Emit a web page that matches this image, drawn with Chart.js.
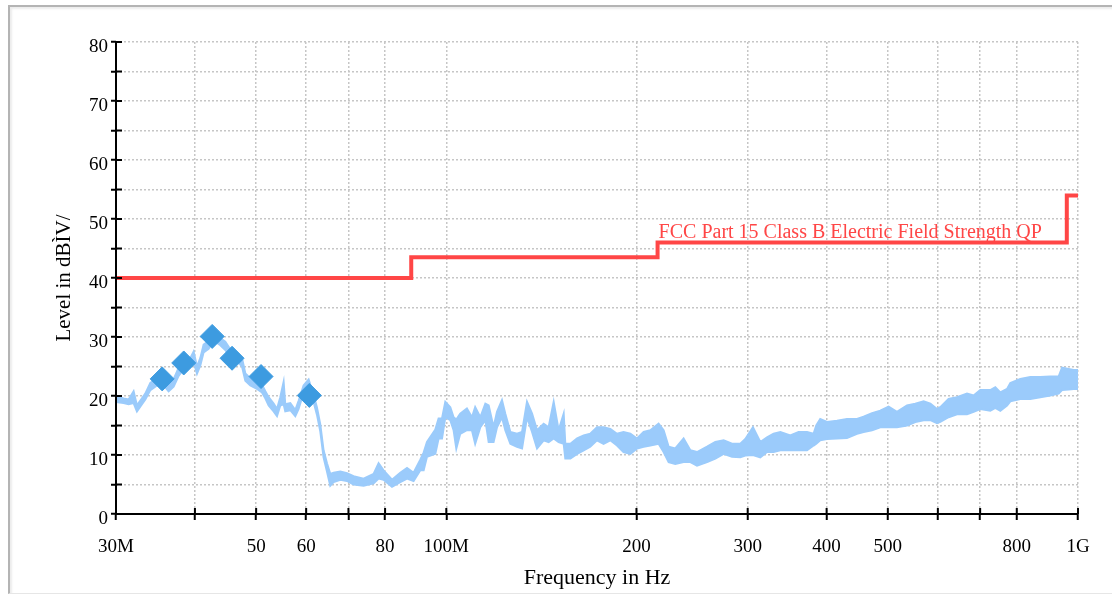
<!DOCTYPE html>
<html>
<head>
<meta charset="utf-8">
<script src="https://cdn.jsdelivr.net/npm/chart.js@4"></script>
<style>
  html, body { margin: 0; padding: 0; background: #fff; overflow: hidden; }
  #frame {
    position: absolute; left: 8px; top: 5px; width: 1200px; height: 586px;
    border-left: 2px solid #b4b4b4; border-top: 2px solid #b4b4b4;
    border-bottom: 1px solid #e6e6e6;
    box-shadow: inset 2px 2px 2px #ececec;
  }
  #chart { position: absolute; left: 0; top: 0; }
</style>
</head>
<body>
<div id="frame"></div>
<canvas id="chart" width="1112" height="594"></canvas>
<script>
// eixo de frequencia (MHz) - ticks e rotulos
const xTickValues = [30, 40, 50, 60, 70, 80, 100, 200, 300, 400, 500, 600, 700, 800, 1000];
const xTickLabels = ['30M', '', '50', '60', '', '80', '100M', '200', '300', '400', '500', '', '', '800', '1G'];

// limite FCC (degraus)
const limitName = 'FCC Part 15 Class B Electric Field Strength QP';
const limitFreq = [30, 88, 216, 960, 1000];
const limitLevel = [40, 43.5, 46, 54, 54];

// pontos medidos (QP)
const markFreq = [35.5, 38.4, 42.6, 45.8, 50.9, 60.7];
const markLevel = [22.9, 25.6, 30.1, 26.4, 23.3, 20.1];

// varredura: frequencia, envelope superior e inferior
const traceFreq = [
  30, 30.84, 31.41, 31.99, 32.38, 32.98, 33.38, 34.0, 34.84, 35.69,
  36.34, 37.01, 37.69, 38.38, 39.33, 39.81, 40.3, 40.79, 41.29, 42.05,
  42.82, 43.88, 44.68, 45.5, 46.63, 47.49, 48.07, 48.95, 50.16, 51.08,
  51.7, 52.33, 53.29, 53.95, 54.6, 55.27, 55.6, 56.63, 57.67, 58.37,
  59.44, 60.54, 61.65, 62.42, 63.17, 63.93, 64.73, 65.51, 66.32, 67.96,
  69.63, 71.32, 73.98, 76.72, 78.13, 79.56, 82.04, 84.55, 86.66, 88.76,
  90.96, 92.07, 93.2, 96.08, 97.23, 98.45, 99.64,
  101.47, 102.69, 103.71, 105.2, 107.8, 109.8, 111.1, 113.2, 115.3, 116.7,
  118.8, 120.3, 122.5, 124.0, 126.3, 129.4, 131.8, 134.2, 136.7, 139.2,
  142.6, 145.2, 147.9, 150.6, 153.4, 154.3, 157.2, 161.1, 165.0, 169.0,
  173.2, 177.4, 181.8, 186.3, 190.8, 195.6, 200.4, 205.3, 210.4, 216.8,
  220.8, 224.9, 230.4, 237.5, 243.4, 249.4, 258.7, 266.6, 274.8, 283.3,
  292.0, 297.4, 305.8, 314.1, 321.9, 329.7, 337.9, 350.4, 361.2, 372.4,
  381.4, 385.2, 390.8, 400.5, 415.4, 430.8, 446.8, 457.7, 472, 486.4,
  501.4, 516.9, 536.2, 552.6, 569.7, 583.8, 598.2, 605.4, 623.9, 643.3,
  667.3, 683.5, 700.3, 726.4, 739.8, 753.4, 772.1, 781.4, 810.3, 840.5,
  871.6, 903.9, 931.8, 943.5, 966.3, 984.3, 1000
];
const traceMax = [
  20.0, 19.6, 19.4, 20.8, 18.4, 19.6, 20.4, 22.2, 23.0, 23.0,
  21.8, 22.8, 24.8, 25.9, 26.4, 27.5, 25.0, 26.4, 28.7, 29.3,
  30.6, 29.8, 29.2, 27.9, 27.3, 26.4, 23.8, 23.0, 22.4, 21.9,
  20.8, 19.8, 18.7, 17.8, 19.8, 22.4, 18.6, 18.8, 17.6, 19.2,
  21.8, 22.8, 20.2, 18.0, 15.2, 10.8, 8.6, 6.8, 7.0, 7.2,
  6.9, 6.4, 6.0, 6.8, 8.6, 7.4, 5.8, 7.0, 7.8, 7.0,
  9.2, 10.4, 12.2, 14.3, 16.2, 16.2, 19.0,
  18.1, 16.4, 16.0, 17.0, 17.9, 16.4, 18.1, 16.4, 18.7, 18.4,
  14.7, 17.3, 19.3, 17.0, 13.9, 13.6, 13.9, 19.0, 17.0, 14.2,
  15.3, 14.7, 19.0, 14.2, 17.0, 11.9, 11.9, 12.8, 13.3, 13.6,
  14.7, 14.7, 14.4, 13.6, 13.9, 13.6, 12.8, 13.9, 14.2, 15.3,
  14.2, 11.4, 11.1, 12.8, 10.8, 10.5, 11.4, 12.2, 12.5, 11.9,
  11.9, 12.7, 14.7, 12.2, 13.0, 13.6, 13.9, 13.3, 13.9, 13.9,
  13.6, 15.0, 16.1, 15.6, 15.8, 16.1, 16.1, 16.5, 17.1, 17.5,
  18.2, 17.3, 18.4, 18.7, 19.1, 18.7, 17.8, 18.1, 19.5, 19.8,
  20.4, 20.1, 21.0, 21.0, 21.5, 20.6, 21.2, 22.2, 22.9, 23.2,
  23.2, 23.3, 23.3, 24.8, 24.6, 24.4, 24.4
];
const traceMin = [
  19.0, 18.8, 18.6, 18.8, 17.4, 18.6, 19.4, 21.0, 21.8, 21.8,
  20.8, 21.6, 23.4, 24.6, 25.2, 25.8, 23.8, 25.2, 27.4, 28.0,
  29.4, 28.6, 27.8, 26.6, 26.0, 25.0, 22.6, 21.8, 21.2, 20.6,
  19.6, 18.4, 17.4, 16.6, 18.4, 18.6, 17.4, 17.6, 16.6, 17.8,
  20.6, 21.4, 19.0, 16.8, 14.0, 9.6, 7.2, 4.8, 5.4, 5.8,
  5.6, 5.0, 4.8, 5.2, 6.0, 5.8, 4.6, 5.4, 6.0, 5.6,
  7.4, 7.4, 9.7, 10.2, 12.8, 12.8, 16.4,
  15.9, 14.2, 11.1, 13.6, 14.2, 14.2, 11.9, 14.7, 15.9, 12.2,
  12.2, 14.7, 16.4, 14.2, 11.9, 11.4, 11.1, 16.4, 13.9, 11.1,
  12.5, 12.2, 12.8, 12.2, 11.9, 9.4, 9.4, 10.2, 10.8, 11.4,
  12.5, 11.9, 12.5, 11.6, 10.5, 10.2, 11.1, 11.4, 11.6, 11.9,
  10.5, 8.8, 8.5, 8.8, 8.8, 8.2, 8.8, 9.4, 10.2, 9.7,
  9.6, 9.9, 10.0, 9.6, 10.5, 10.5, 10.8, 10.8, 10.8, 10.8,
  11.6, 11.9, 12.5, 12.7, 12.8, 12.9, 13.6, 13.9, 14.2, 14.7,
  14.7, 14.7, 15.0, 15.6, 15.9, 15.9, 15.4, 15.6, 16.4, 16.9,
  16.9, 17.3, 17.8, 17.5, 18.0, 17.5, 18.4, 19.1, 19.5, 19.5,
  19.8, 20.1, 20.4, 21.0, 21.1, 21.2, 21.2
];

const fonte = 'Liberation Serif';
const corTraco = '#9bcbfb';
const corLimite = '#ff4646';
const corMarca = '#3d9be0';
const corGrade = '#c6c6c6';

// eixos pretos, marcas internas e texto do limite
const eixosPlugin = {
  id: 'eixos',
  afterDraw(chart) {
    const { ctx, chartArea: a, scales: { x, y } } = chart;
    ctx.save();
    ctx.strokeStyle = '#000';
    ctx.lineWidth = 2;
    ctx.setLineDash([]);
    ctx.beginPath();
    ctx.moveTo(a.left, a.top);
    ctx.lineTo(a.left, a.bottom);
    ctx.lineTo(a.right, a.bottom);
    x.ticks.forEach(t => {
      const px = x.getPixelForValue(t.value);
      ctx.moveTo(px, a.bottom);
      ctx.lineTo(px, a.bottom - 6);
    });
    y.ticks.forEach(t => {
      const py = y.getPixelForValue(t.value);
      ctx.moveTo(a.left, py);
      ctx.lineTo(a.left + 6, py);
    });
    ctx.stroke();

    ctx.fillStyle = corLimite;
    ctx.font = '20px "' + fonte + '"';
    ctx.textBaseline = 'alphabetic';
    ctx.fillText(limitName, x.getPixelForValue(limitFreq[2]) + 1, y.getPixelForValue(limitLevel[2]) - 5);
    ctx.restore();
  }
};

const ctx = document.getElementById('chart').getContext('2d');

const grafico = new Chart(ctx, {
  type: 'line',
  data: {
    datasets: [
      {
        label: 'QP',
        type: 'scatter',
        data: markFreq.map((f, i) => ({ x: f, y: markLevel[i] })),
        pointStyle: 'rectRot',
        pointRadius: 12,
        pointBackgroundColor: corMarca,
        pointBorderColor: corMarca,
        pointBorderWidth: 1,
        showLine: false,
        order: 0
      },
      {
        label: limitName,
        data: limitFreq.map((f, i) => ({ x: f, y: limitLevel[i] })),
        borderColor: corLimite,
        borderWidth: 4,
        stepped: true,
        pointRadius: 0,
        fill: false,
        order: 1
      },
      {
        label: 'max',
        data: traceFreq.map((f, i) => ({ x: f, y: traceMax[i] })),
        borderColor: corTraco,
        borderWidth: 2,
        pointRadius: 0,
        tension: 0,
        fill: false,
        order: 2
      },
      {
        label: 'min',
        data: traceFreq.map((f, i) => ({ x: f, y: traceMin[i] })),
        borderColor: corTraco,
        backgroundColor: corTraco,
        borderWidth: 2,
        pointRadius: 0,
        tension: 0,
        fill: '-1',
        order: 3
      }
    ]
  },
  options: {
    responsive: false,
    animation: false,
    devicePixelRatio: 1,
    layout: { padding: { top: 42, right: 34, left: 0, bottom: 0 } },
    plugins: {
      legend: { display: false },
      tooltip: { enabled: false }
    },
    scales: {
      x: {
        type: 'logarithmic',
        min: 30,
        max: 1000,
        afterBuildTicks: s => { s.ticks = xTickValues.map(v => ({ value: v })); },
        afterFit: s => { s.height = 80; },
        ticks: {
          autoSkip: false,
          maxRotation: 0,
          padding: 16,
          color: '#000',
          font: { family: fonte, size: 19 },
          callback: v => {
            const i = xTickValues.indexOf(v);
            return i >= 0 ? xTickLabels[i] : '';
          }
        },
        grid: {
          color: corGrade,
          lineWidth: 1.5,
          tickColor: '#000',
          tickWidth: 2,
          tickLength: 6,
          tickBorderDash: []
        },
        border: { display: false, dash: [2, 2] },
        title: {
          display: true,
          text: 'Frequency in Hz',
          color: '#000',
          font: { family: fonte, size: 22 },
          padding: { top: 0, bottom: 3 }
        }
      },
      y: {
        min: 0,
        max: 80,
        afterFit: s => { s.width = 116; },
        ticks: {
          stepSize: 5,
          padding: 3,
          labelOffset: 5,
          color: '#000',
          font: { family: fonte, size: 19 },
          callback: v => (v % 10 === 0 ? v : '')
        },
        grid: {
          color: corGrade,
          lineWidth: 1.5,
          tickColor: '#000',
          tickWidth: 2,
          tickLength: 5,
          tickBorderDash: []
        },
        border: { display: false, dash: [2, 2] },
        title: {
          display: true,
          text: 'Level in dBÌV/',
          color: '#000',
          font: { family: fonte, size: 21 },
          padding: { top: 52, bottom: 0 }
        }
      }
    }
  },
  plugins: [eixosPlugin]
});
</script>
</body>
</html>
